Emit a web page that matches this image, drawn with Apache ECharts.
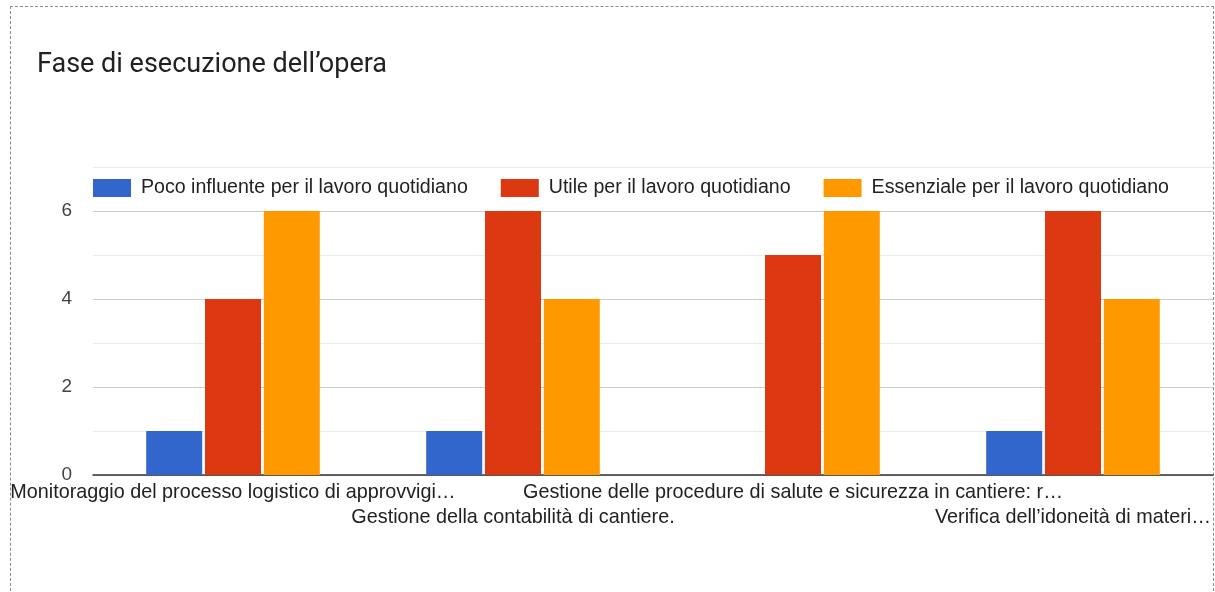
<!DOCTYPE html>
<html>
<head>
<meta charset="utf-8">
<script src="https://cdn.jsdelivr.net/npm/echarts@6/dist/echarts.min.js"></script>
<style>
  html, body { margin: 0; padding: 0; background: #fff; }
  #frame { position: absolute; left: 10px; top: 6px; width: 1204px; height: 600px; border: 1px dashed #8a8a8a; box-sizing: border-box; }
  #chart { position: absolute; left: 0; top: 0; width: 1215px; height: 592px; }
</style>
</head>
<body>
<div id="frame"></div>
<div id="chart"></div>
<script>
const titleText = 'Fase di esecuzione dell’opera';
const categories = [
  'Monitoraggio del processo logistico di approvvigi…',
  'Gestione della contabilità di cantiere.',
  'Gestione delle procedure di salute e sicurezza in cantiere: r…',
  'Verifica dell’idoneità di materi…'
];
const seriesNames = [
  'Poco influente per il lavoro quotidiano',
  'Utile per il lavoro quotidiano',
  'Essenziale per il lavoro quotidiano'
];
const pocoInfluente = [1, 1, 0, 1];
const utile = [4, 6, 5, 6];
const essenziale = [6, 4, 6, 4];
const yTickLabels = ['0', '', '2', '', '4', '', '6', ''];

const colors = ['#3366cc', '#dc3912', '#ff9900'];
const values = [pocoInfluente, utile, essenziale];

const chart = echarts.init(document.getElementById('chart'), null, { renderer: 'canvas' });
chart.setOption({
  animation: false,
  backgroundColor: 'transparent',
  title: {
    text: titleText,
    left: 32,
    top: 47,
    textStyle: { fontFamily: 'Roboto', fontSize: 27, fontWeight: 'normal', color: '#202124' }
  },
  legend: {
    left: 88,
    top: 173,
    itemWidth: 38,
    itemHeight: 18,
    itemGap: 33,
    icon: 'rect',
    textStyle: { fontFamily: 'Liberation Sans, Arial', fontSize: 19.6, color: '#222', padding: [0, 0, 0, 5] },
    data: seriesNames
  },
  grid: { left: 93, right: 2, top: 167, bottom: 117, containLabel: false },
  xAxis: {
    type: 'category',
    data: categories,
    axisTick: { show: false },
    axisLine: { show: true, lineStyle: { color: '#333', width: 1.5 } },
    axisLabel: {
      interval: 0,
      hideOverlap: false,
      margin: 5,
      fontFamily: 'Liberation Sans, Arial',
      fontSize: 19.8,
      color: '#222',
      lineHeight: 25,
      formatter: (v, i) => (i % 2 === 1 ? '\n' + v : v)
    }
  },
  yAxis: {
    type: 'value',
    min: 0,
    max: 7,
    interval: 1,
    axisLine: { show: false },
    axisTick: { show: false },
    axisLabel: {
      margin: 21,
      fontFamily: 'Liberation Sans, Arial',
      fontSize: 19,
      color: '#444',
      formatter: v => yTickLabels[v] !== undefined ? yTickLabels[v] : ''
    },
    splitLine: { lineStyle: { color: ['#cccccc', '#ebebeb'], width: 1 } }
  },
  series: seriesNames.map((name, k) => ({
    name,
    type: 'bar',
    data: values[k],
    barWidth: 56,
    barGap: '5%',
    itemStyle: { color: colors[k] }
  }))
});
</script>
</body>
</html>
